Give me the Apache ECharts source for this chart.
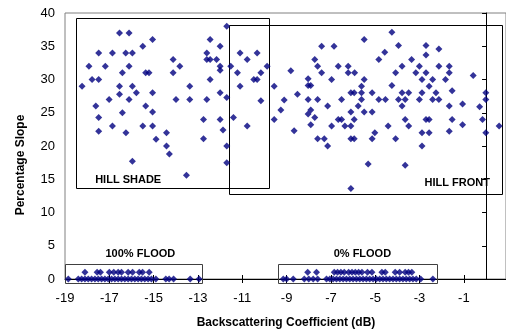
<!DOCTYPE html>
<html>
<head>
<meta charset="utf-8">
<script src="https://cdn.jsdelivr.net/npm/echarts@6/dist/echarts.min.js"></script>
<style>
  html, body { margin: 0; padding: 0; background: #fff; }
  #chart { width: 506px; height: 333px; }
</style>
</head>
<body>
<div id="chart"></div>
<script>
// ─── Data ───────────────────────────────────────────────────────────────────

const xTickValues = [-19, -17, -15, -13, -11, -9, -7, -5, -3, -1];

// [backscatter dB, slope %]
const hillShade = [
  [-18.23, 29], [-17.92, 32], [-17.78, 30], [-17.48, 30], [-17.48, 34], [-17.61, 26],
  [-17.48, 24.3], [-17.48, 22.2], [-17.18, 32], [-16.86, 34], [-17.01, 27], [-16.86, 23],
  [-16.54, 37], [-16.11, 37], [-16.41, 31], [-16.54, 29], [-16.54, 27.8], [-16.41, 25],
  [-16.26, 34], [-15.96, 34], [-16.11, 32], [-16.11, 27], [-15.96, 29], [-15.78, 28],
  [-16.25, 22], [-15.96, 17.7], [-15.49, 35], [-15.05, 36], [-15.36, 31], [-15.21, 31],
  [-15.05, 28], [-15.36, 26], [-15.05, 25.1], [-15.49, 23], [-15.05, 23], [-14.89, 21],
  [-14.42, 22], [-14.42, 20], [-14.29, 18.8], [-14.12, 33], [-14.12, 31], [-13.82, 32],
  [-13.99, 27], [-13.37, 29], [-13.37, 27], [-13.52, 15.6], [-12.45, 36], [-12.6, 34],
  [-12.6, 33], [-12.45, 33], [-12.16, 33], [-12.0, 35], [-12.0, 32], [-12.0, 31.4],
  [-12.45, 30], [-12.6, 27], [-12.0, 28], [-11.7, 38], [-11.7, 27.3], [-12.75, 24],
  [-12.0, 24], [-11.87, 22.4], [-12.75, 21.1], [-11.7, 20], [-11.7, 17.5]
];

const hillFront = [
  [-11.52, 32], [-11.1, 34], [-10.78, 33], [-10.33, 34], [-11.22, 31], [-11.1, 29],
  [-10.48, 30], [-10.33, 30], [-10.16, 31], [-9.88, 32], [-10.16, 26.8], [-11.4, 24.3],
  [-10.78, 23], [-9.56, 29], [-9.56, 24], [-9.26, 25.4], [-9.11, 26.9], [-8.81, 31.3],
  [-8.66, 22.3], [-8.51, 27.8], [-8.03, 30.1], [-8.03, 29.1], [-7.91, 29.1], [-8.03, 27],
  [-7.91, 25.4], [-8.03, 24.8], [-7.91, 23.2], [-7.73, 33], [-7.6, 32], [-7.42, 31],
  [-7.42, 35], [-7.73, 24.3], [-7.6, 27], [-7.6, 21.1], [-7.3, 21.1], [-7.15, 26],
  [-7.15, 20], [-6.97, 30], [-6.86, 35], [-6.97, 23], [-6.67, 32], [-6.52, 27],
  [-6.67, 24], [-6.52, 24], [-6.37, 23], [-6.22, 32], [-6.22, 31], [-5.93, 31],
  [-6.1, 25.1], [-6.1, 23], [-6.1, 21.1], [-5.95, 21.1], [-6.1, 13.6], [-6.1, 28],
  [-5.95, 28], [-5.95, 24], [-5.77, 26], [-5.62, 29], [-5.62, 28], [-5.62, 27],
  [-5.5, 30], [-5.5, 36], [-5.5, 25.1], [-5.14, 28], [-5.14, 25.1], [-5.02, 22],
  [-5.14, 21.1], [-5.32, 17.3], [-4.84, 33], [-4.84, 27], [-4.54, 27], [-4.57, 34.1],
  [-4.42, 23], [-4.25, 37.1], [-4.25, 29.1], [-4.08, 31], [-4.08, 21.1], [-3.95, 35.1],
  [-3.95, 27], [-3.65, 27], [-3.79, 32], [-3.79, 28], [-3.49, 28], [-3.79, 26],
  [-3.65, 24], [-3.49, 23], [-3.65, 17.1], [-3.36, 33], [-3.17, 31], [-3.01, 32],
  [-3.01, 27], [-2.89, 30], [-2.89, 28], [-2.89, 22], [-2.89, 20], [-2.71, 35.1],
  [-2.71, 33.7], [-2.71, 31], [-2.71, 24], [-2.57, 24], [-2.57, 29], [-2.57, 22],
  [-2.41, 30], [-2.41, 27], [-2.26, 28], [-2.13, 34.6], [-2.13, 32], [-2.13, 27],
  [-1.83, 30], [-1.66, 32], [-1.66, 31], [-1.66, 26], [-1.66, 22.2], [-1.53, 28.3],
  [-1.53, 24], [-1.06, 26.3], [-1.06, 23.2], [-0.58, 30.6], [-0.29, 25.9], [-0.16, 24],
  [-0.01, 28], [-0.01, 27], [-0.01, 22], [0.59, 23]
];

// flood points sit on slope 0 or 1
const flood100Zero = [-18.85, -18.4, -18.25, -18.1, -17.95, -17.8, -17.65, -17.5, -17.35, -17.2,
  -17.05, -16.9, -16.75, -16.6, -16.45, -16.3, -16.15, -16.0, -15.85, -15.7, -15.55, -15.4,
  -15.25, -15.1, -14.9, -14.45, -14.3, -14.1, -13.35, -12.95];
const flood100One = [-18.1, -17.55, -17.4, -17.0, -16.8, -16.6, -16.45, -16.15, -15.95, -15.65,
  -15.5, -15.2];
const flood0Zero = [-9.15, -9.0, -8.7, -8.2, -8.0, -7.8, -7.6, -7.2, -7.05, -6.9, -6.75, -6.6,
  -6.45, -6.3, -6.15, -6.0, -5.85, -5.7, -5.55, -5.4, -5.25, -5.1, -4.95, -4.8, -4.65, -4.5,
  -4.35, -4.2, -4.05, -3.9, -3.75, -3.6, -3.45, -3.3, -3.15, -2.95, -2.4];
const flood0One = [-8.05, -7.65, -6.85, -6.7, -6.55, -6.4, -6.2, -6.05, -5.9, -5.75, -5.6,
  -5.35, -5.15, -4.7, -4.55, -4.1, -3.9, -3.65, -3.5, -3.35];

// annotation boxes, in data coordinates: [x1, y1, x2, y2], label and label anchor
const boxes = [
  { rect: [-18.52, 39.2, -9.8, 13.64], label: 'HILL SHADE', at: [-16.15, 14.9], color: '#000' },
  { rect: [-11.6, 38.2, 0.7, 12.8], label: 'HILL FRONT', at: [-1.3, 14.4], color: '#000' },
  { rect: [-19, 2.26, -12.8, -0.65], label: '100% FLOOD', at: [-15.6, 3.8], color: '#404040' },
  { rect: [-9.38, 2.26, -2.22, -0.6], label: '0% FLOOD', at: [-5.58, 3.7], color: '#404040' },
];

// ─── Chart ──────────────────────────────────────────────────────────────────

const FONT = '"Liberation Sans", Arial, sans-serif';
const NAVY = '#000080';

const withY = (xs, y) => xs.map(x => [x, y]);

const scatter = (data) => ({
  type: 'scatter',
  data,
  symbol: 'diamond',
  symbolSize: 7,
  itemStyle: { color: NAVY },
  silent: true,
  z: 3,
});

const chart = echarts.init(document.getElementById('chart'), null, { renderer: 'canvas' });

chart.setOption({
  animation: false,
  backgroundColor: '#fff',
  textStyle: { fontFamily: FONT },
  grid: {
    left: 65, top: 13, right: 0, bottom: 54,
    show: true, borderColor: '#808080', borderWidth: 1, backgroundColor: 'transparent',
  },
  xAxis: [{
    type: 'value',
    min: -19,
    max: 0.9,
    position: 'bottom',
    axisLine: { onZero: false, lineStyle: { color: '#000', width: 1 } },
    axisTick: { show: true, length: 4, customValues: xTickValues, lineStyle: { color: '#000' } },
    axisLabel: { customValues: xTickValues, color: '#000', fontSize: 13, fontFamily: FONT, margin: 13 },
    splitLine: { show: false },
  }, {
    // second pass only for the inner half of the crossing ticks
    type: 'value',
    min: -19,
    max: 0.9,
    position: 'bottom',
    axisLine: { show: false, onZero: false },
    axisTick: { show: true, inside: true, length: 4, customValues: xTickValues, lineStyle: { color: '#000' } },
    axisLabel: { show: false },
    splitLine: { show: false },
  }],
  yAxis: {
    type: 'value',
    min: 0,
    max: 40,
    interval: 5,
    axisLine: { show: true, lineStyle: { color: '#000', width: 1 } },
    axisTick: { show: true, length: 4, lineStyle: { color: '#000' } },
    axisLabel: { color: '#000', fontSize: 13, fontFamily: FONT, margin: 10 },
    splitLine: { show: false },
  },
  series: [
    scatter(hillShade),
    scatter(hillFront),
    scatter(withY(flood100Zero, 0)),
    scatter(withY(flood100One, 1)),
    scatter(withY(flood0Zero, 0)),
    scatter(withY(flood0One, 1)),
  ],
});

// boxes + labels + axis titles, placed after layout so data coords map to pixels
const toPx = (p) => chart.convertToPixel({ xAxisIndex: 0, yAxisIndex: 0 }, p);
const graphics = [];
boxes.forEach(b => {
  const [x1, y1] = toPx([b.rect[0], b.rect[1]]);
  const [x2, y2] = toPx([b.rect[2], b.rect[3]]);
  graphics.push({
    type: 'rect',
    shape: { x: Math.round(x1) + 0.5, y: Math.round(y1) + 0.5, width: Math.round(x2 - x1), height: Math.round(y2 - y1) },
    style: { fill: 'none', stroke: b.color, lineWidth: 1 },
    z: 2,
  });
  const [lx, ly] = toPx(b.at);
  graphics.push({
    type: 'text',
    x: lx, y: ly,
    style: { text: b.label, font: 'bold 11px ' + FONT, fill: '#000', align: 'center', verticalAlign: 'middle' },
    z: 4,
  });
});
graphics.push({
  type: 'text',
  x: 286, y: 323,
  style: { text: 'Backscattering Coefficient (dB)', font: 'bold 12px ' + FONT, fill: '#000', align: 'center', verticalAlign: 'middle' },
});
graphics.push({
  type: 'text',
  x: 21, y: 165,
  rotation: Math.PI / 2,
  style: { text: 'Percentage Slope', font: 'bold 12px ' + FONT, fill: '#000', align: 'center', verticalAlign: 'middle' },
});
chart.setOption({ graphic: graphics });
</script>
</body>
</html>
